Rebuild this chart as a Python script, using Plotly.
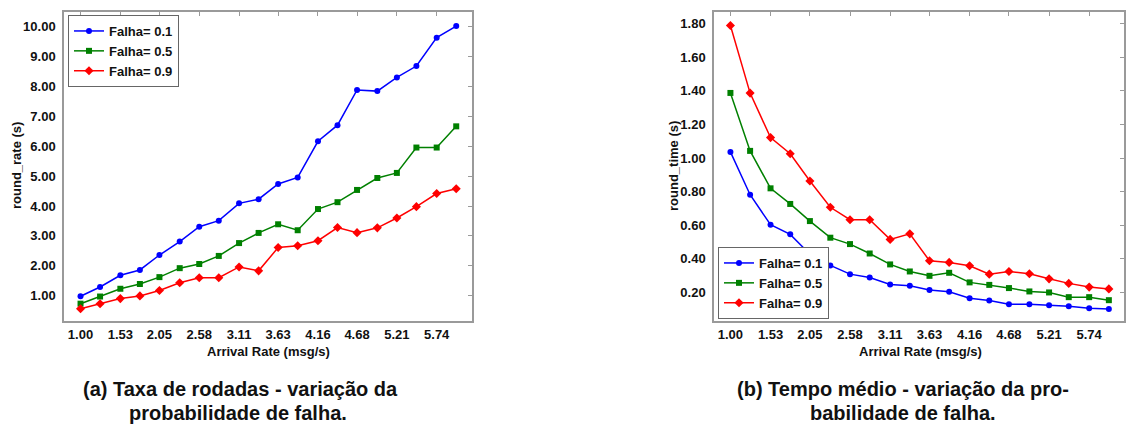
import plotly.graph_objects as go

# ---------------- data ----------------
arrival_rate = [1.00, 1.26, 1.53, 1.79, 2.05, 2.32, 2.58, 2.84, 3.11, 3.37,
                3.63, 3.89, 4.16, 4.42, 4.68, 4.95, 5.21, 5.47, 5.74, 6.00]
x_tick_vals = [1.00, 1.53, 2.05, 2.58, 3.11, 3.63, 4.16, 4.68, 5.21, 5.74]
x_tick_text = ["1.00", "1.53", "2.05", "2.58", "3.11", "3.63", "4.16", "4.68", "5.21", "5.74"]
series_names = ["Falha= 0.1", "Falha= 0.5", "Falha= 0.9"]

round_rate_01 = [0.98, 1.29, 1.68, 1.86, 2.36, 2.81, 3.31, 3.51, 4.09, 4.23,
                 4.74, 4.96, 6.17, 6.71, 7.89, 7.85, 8.31, 8.69, 9.64, 10.03]
round_rate_05 = [0.73, 0.97, 1.23, 1.39, 1.62, 1.92, 2.06, 2.33, 2.76, 3.10,
                 3.39, 3.19, 3.90, 4.13, 4.54, 4.94, 5.11, 5.96, 5.96, 6.67]
round_rate_09 = [0.56, 0.73, 0.90, 0.99, 1.17, 1.43, 1.60, 1.60, 1.96, 1.83,
                 2.61, 2.67, 2.84, 3.28, 3.11, 3.27, 3.60, 3.98, 4.42, 4.58]

round_time_01 = [1.037, 0.782, 0.603, 0.546, 0.428, 0.361, 0.309, 0.289, 0.248, 0.240,
                 0.214, 0.204, 0.166, 0.152, 0.130, 0.130, 0.124, 0.118, 0.106, 0.102]
round_time_05 = [1.388, 1.043, 0.820, 0.727, 0.625, 0.526, 0.488, 0.432, 0.367, 0.325,
                 0.299, 0.317, 0.260, 0.245, 0.226, 0.206, 0.200, 0.172, 0.172, 0.154]
round_time_09 = [1.790, 1.387, 1.122, 1.026, 0.864, 0.707, 0.633, 0.633, 0.516, 0.549,
                 0.389, 0.379, 0.359, 0.309, 0.325, 0.311, 0.281, 0.254, 0.232, 0.221]

rate_ticks = [1, 2, 3, 4, 5, 6, 7, 8, 9, 10]
time_ticks = [0.2, 0.4, 0.6, 0.8, 1.0, 1.2, 1.4, 1.6, 1.8]

# ---------------- styles ----------------
W, H = 1127, 426
colors = ["#0000FF", "#008000", "#FF0000"]
symbols = ["circle", "square", "diamond"]
msizes = [6, 6, 7]
AX = "#9a9a9a"
FONT = "Liberation Sans, Arial, sans-serif"

xdom_a = [64 / W, 472 / W]
xdom_b = [714 / W, 1124 / W]
ydom = [1 - 321 / H, 1 - 12 / H]
xr_a = [0.78, 6.21]
xr_b = [0.783, 6.2]
yr_a = [0.15, 10.5]
yr_b = [0.03, 1.87]

fig = go.Figure()

left = [round_rate_01, round_rate_05, round_rate_09]
right = [round_time_01, round_time_05, round_time_09]
for i in range(3):
    fig.add_trace(go.Scatter(
        x=arrival_rate, y=left[i], name=series_names[i], mode="lines+markers",
        line=dict(color=colors[i], width=1.5),
        marker=dict(symbol=symbols[i], size=msizes[i], color=colors[i]),
        xaxis="x", yaxis="y", legend="legend"))
for i in range(3):
    fig.add_trace(go.Scatter(
        x=arrival_rate, y=right[i], name=series_names[i], mode="lines+markers",
        line=dict(color=colors[i], width=1.5),
        marker=dict(symbol=symbols[i], size=msizes[i], color=colors[i]),
        xaxis="x2", yaxis="y2", legend="legend2"))

# empty traces to activate the mirrored tick axes (top/right)
fig.add_trace(go.Scatter(x=[None], y=[None], xaxis="x3", yaxis="y3",
                         showlegend=False, hoverinfo="skip"))
fig.add_trace(go.Scatter(x=[None], y=[None], xaxis="x4", yaxis="y4",
                         showlegend=False, hoverinfo="skip"))

base = dict(showline=True, linecolor=AX, linewidth=1.5, showgrid=False,
            zeroline=False, ticks="", tickfont=dict(size=13, color="#111"))
mirror = dict(ticks="inside", ticklen=4, tickcolor=AX, showticklabels=False,
              showline=True, linecolor=AX, linewidth=1.5, showgrid=False,
              zeroline=False)

fig.update_layout(
    width=W, height=H,
    margin=dict(l=0, r=0, t=0, b=0),
    paper_bgcolor="white", plot_bgcolor="white",
    font=dict(family=FONT, size=13, color="#111", weight="bold"),
    xaxis=dict(base, domain=xdom_a, range=xr_a, anchor="y",
               tickvals=x_tick_vals, ticktext=x_tick_text, ticklabelstandoff=1),
    yaxis=dict(base, domain=ydom, range=yr_a, anchor="x",
               tickvals=rate_ticks, tickformat=".2f", ticklabelstandoff=4),
    xaxis2=dict(base, domain=xdom_b, range=xr_b, anchor="y2",
                tickvals=x_tick_vals, ticktext=x_tick_text, ticklabelstandoff=1),
    yaxis2=dict(base, domain=ydom, range=yr_b, anchor="x2",
                tickvals=time_ticks, tickformat=".2f", ticklabelstandoff=4),
    xaxis3=dict(mirror, overlaying="x", anchor="y3", side="top", range=xr_a,
                tickvals=x_tick_vals),
    yaxis3=dict(mirror, overlaying="y", anchor="x3", side="right", range=yr_a,
                tickvals=rate_ticks),
    xaxis4=dict(mirror, overlaying="x2", anchor="y4", side="top", range=xr_b,
                tickvals=x_tick_vals),
    yaxis4=dict(mirror, overlaying="y2", anchor="x4", side="right", range=yr_b,
                tickvals=time_ticks),
    legend=dict(x=68 / W, y=1 - 15 / H, xanchor="left", yanchor="top",
                bgcolor="white", bordercolor="#666", borderwidth=1,
                font=dict(size=13, color="#111"), itemwidth=30, tracegroupgap=0),
    legend2=dict(x=718 / W, y=1 - 319 / H, xanchor="left", yanchor="bottom",
                 bgcolor="white", bordercolor="#666", borderwidth=1,
                 font=dict(size=13, color="#111"), itemwidth=30, tracegroupgap=0),
    showlegend=True,
)

ann = []
# axis titles
ann.append(dict(text="round_rate (s)", x=16 / W, y=1 - 166 / H, textangle=-90))
ann.append(dict(text="round_time (s)", x=673 / W, y=1 - 166 / H, textangle=-90))
ann.append(dict(text="Arrival Rate (msg/s)", x=268 / W, y=1 - 351 / H))
ann.append(dict(text="Arrival Rate (msg/s)", x=920 / W, y=1 - 351 / H))
for a in ann:
    a.update(xref="paper", yref="paper", showarrow=False,
             xanchor="center", yanchor="middle", font=dict(size=13, color="#111"))

caps = [
    ("(a) Taxa de rodadas - variação da", 240, 389),
    ("probabilidade de falha.", 238, 413),
    ("(b) Tempo médio - variação da pro-", 903, 389),
    ("babilidade de falha.", 903, 413),
]
for t, cx, cy in caps:
    ann.append(dict(text=t, x=cx / W, y=1 - cy / H, xref="paper", yref="paper",
                    showarrow=False, xanchor="center", yanchor="middle",
                    font=dict(size=20, color="#111")))
fig.update_layout(annotations=ann)

fig.write_html("out.html", config={"displayModeBar": False},
               post_script="document.body.style.margin='0';document.body.style.overflow='hidden';")
